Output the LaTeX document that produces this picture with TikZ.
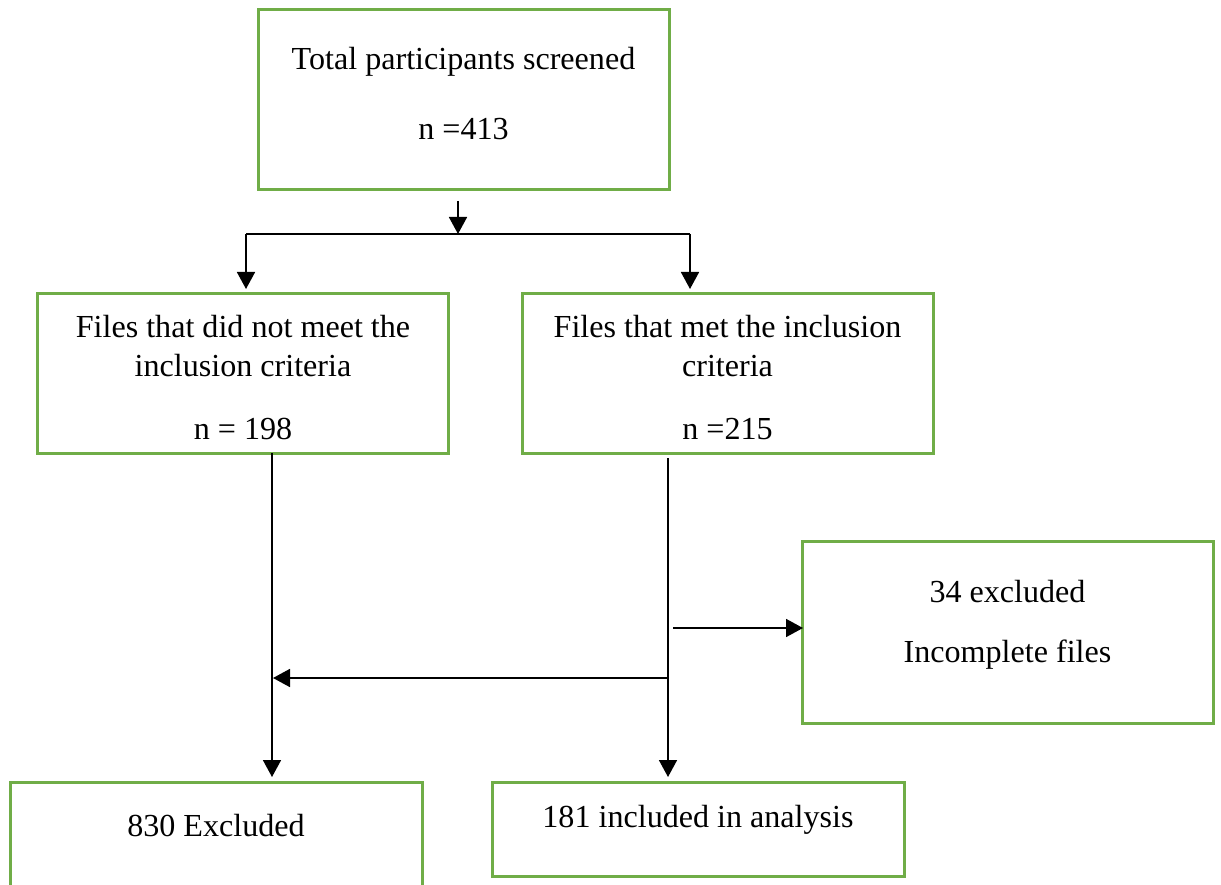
\documentclass[tikz,border=0pt]{standalone}
\usepackage{fontspec}
\setmainfont{Liberation Serif}
\usetikzlibrary{arrows.meta}
\definecolor{boxgreen}{RGB}{112,173,71}
\tikzset{
  gbox/.style={draw=boxgreen, line width=3pt, fill=none},
  txt/.style={font=\fontsize{32.1}{38}\selectfont, inner sep=0pt, anchor=center},
  conn/.style={draw=black, line width=1.7pt},
  arr/.style={conn, -{Triangle[length=17pt,width=18pt]}}
}
\begin{document}
\begin{tikzpicture}[x=1pt,y=-1pt]
\useasboundingbox[fill=white] (0,0) rectangle (1221,885);
% boxes
\path[gbox] (258,10) rectangle (669,190);
\path[gbox] (37,294) rectangle (448,453);
\path[gbox] (522,294) rectangle (933,453);
\path[gbox] (802,541) rectangle (1213,723);
\path[gbox] (10,782) rectangle (422,900);
\path[gbox] (492,782) rectangle (904,876);
% texts
\node[txt] (t1) at (463.5,62) {Total participants screened};
\node[txt] (t2) at (463.5,129) {n =413};
\node[txt] (t3) at (243,327) {Files that did not meet the};
\node[txt] (t4) at (243,366) {inclusion criteria};
\node[txt] (t5) at (243,429) {n = 198};
\node[txt] (t6) at (727.5,327) {Files that met the inclusion};
\node[txt] (t7) at (727.5,366) {criteria};
\node[txt] (t8) at (727.5,429) {n =215};
\node[txt] (t9) at (1007.5,592) {34 excluded};
\node[txt] (t10) at (1007.5,655) {Incomplete files};
\node[txt] (t11) at (216,826) {830 Excluded};
\node[txt] (t12) at (698,820) {181 included in analysis};
% connector coordinates
\coordinate (a0) at (458,201);
\coordinate (a1) at (458,234);
\coordinate (bl) at (246,234);
\coordinate (br) at (690,234);
\coordinate (blt) at (246,289);
\coordinate (brt) at (690,289);
\coordinate (vl0) at (272,453);
\coordinate (vl1) at (272,777);
\coordinate (vr0) at (668,458);
\coordinate (vr1) at (668,777);
\coordinate (h10) at (673,628);
\coordinate (h11) at (803,628);
\coordinate (h20) at (668,678);
\coordinate (h21) at (273,678);
% connectors
\draw[arr] (a0) -- (a1);
\draw[conn] (bl) -- (br);
\draw[arr] (bl) -- (blt);
\draw[arr] (br) -- (brt);
\draw[arr] (vl0) -- (vl1);
\draw[arr] (vr0) -- (vr1);
\draw[arr] (h10) -- (h11);
\draw[arr] (h20) -- (h21);
\end{tikzpicture}
\end{document}
